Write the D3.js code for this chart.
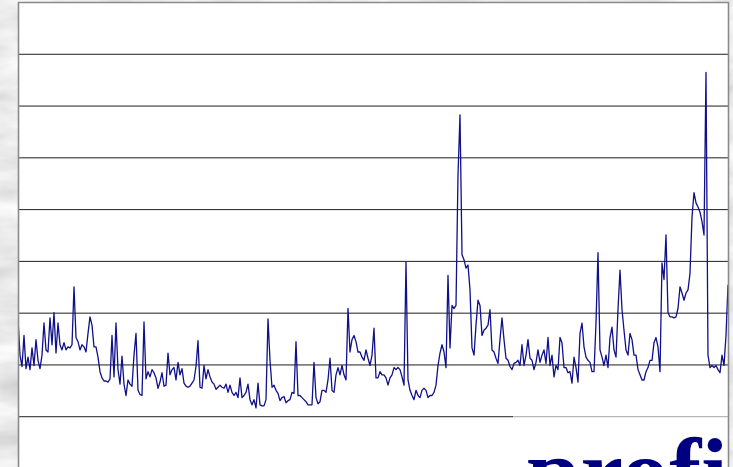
<!DOCTYPE html>
<html>
<head>
<meta charset="utf-8">
<script src="https://cdn.jsdelivr.net/npm/d3@7"></script>
<style>
  html, body { margin: 0; padding: 0; background: #d4d4d4; overflow: hidden; }
  svg { display: block; }
</style>
</head>
<body>
<svg width="733" height="467"></svg>
<script>
// series (gridline step = 50)
var seriesValues = [
  144,109,98,128,96,107,95,116,99,124,104,96,109,140,114,112,145,119,150,111,
  140,119,114,121,114,117,116,119,175,126,122,114,119,117,112,130,146,138,117,117,
  107,93,87,84,84,83,86,128,88,140,95,81,108,81,70,85,81,79,109,130,
  75,71,70,
  141,86,93,88,95,92,87,77,83,92,79,80,111,90,95,97,85,102,90,96,
  82,79,78,79,82,85,98,123,78,77,99,86,95,88,83,81,76,78,80,78,
  77,81,73,80,73,70,73,68,87,68,70,73,81,66,61,66,58,82,61,60,60,
  66,144,104,78,80,75,72,65,68,69,63,65,66,73,72,122,70,70,68,66,
  64,61,61,61,102,68,62,64,75,75,73,85,106,75,73,90,97,90,99,90,
  85,154,112,124,128,122,112,112,107,104,114,106,99,109,135,87,87,93,90,90,
  87,80,87,90,97,95,97,95,88,80,199,85,75,70,66,75,70,68,75,77,75,68,70,
  70,73,80,99,111,119,112,97,186,116,157,154,157,283,341,206,201,193,196,172,
  116,109,138,162,157,128,133,135,138,153,114,112,106,101,124,145,124,106,104,98,
  95,101,102,104,99,119,99,109,124,106,104,95,102,114,102,109,114,
  101,126,99,109,88,99,95,126,121,97,97,92,93,82,107,97,83,130,140,117,
  107,104,102,93,93,140,208,114,107,99,109,97,126,136,114,107,153,191,153,133,
  114,109,130,124,109,109,95,90,85,85,93,97,104,
  104,121,126,117,93,198,182,225,150,146,146,145,146,154,175,169,162,169,172,188,
  242,266,256,252,247,238,225,382,109,97,99,97,99,95,92,109,99,128,177
];
var gridValues = [50, 100, 150, 200, 250, 300, 350, 400];
var yMax = 450;
var bannerText = "profit";

var svg = d3.select("svg"),
  W = +svg.attr("width"),
  H = +svg.attr("height"),
  margin = {top: 2, right: 5, bottom: 0, left: 18},
  width = W - margin.left - margin.right,
  bottomY = 468;

var defs = svg.append("defs");

// marbled backdrop
var marble = defs.append("filter").attr("id", "marble")
  .attr("x", 0).attr("y", 0).attr("width", "100%").attr("height", "100%");
marble.append("feTurbulence")
  .attr("type", "fractalNoise")
  .attr("baseFrequency", "0.012 0.035")
  .attr("numOctaves", 4)
  .attr("seed", 7);
marble.append("feColorMatrix")
  .attr("type", "matrix")
  .attr("values", "0.55 0 0 0 0.55  0.55 0 0 0 0.55  0.55 0 0 0 0.55  0 0 0 0 1");

defs.append("clipPath").attr("id", "plotClip")
  .append("rect")
  .attr("x", margin.left).attr("y", margin.top)
  .attr("width", width).attr("height", bottomY - margin.top + 10);

svg.append("rect")
  .attr("width", W).attr("height", H)
  .attr("filter", "url(#marble)");

var x = d3.scaleLinear().domain([0, seriesValues.length - 1]).range([margin.left, margin.left + width]),
  y = d3.scaleLinear().domain([0, yMax]).range([bottomY, margin.top]);

// plot area
svg.append("rect")
  .attr("x", margin.left).attr("y", margin.top)
  .attr("width", width).attr("height", bottomY - margin.top + 10)
  .attr("fill", "#fff");

// gridlines
var grid = svg.append("g")
  .attr("class", "grid")
  .attr("transform", "translate(" + margin.left + ",0)")
  .call(d3.axisLeft(y).tickValues(gridValues).tickSize(-width).tickFormat(""));
grid.select(".domain").remove();
grid.selectAll("line").attr("stroke", "#1e1e1e").attr("stroke-width", 1);

// the series
var line = d3.line()
  .x(function(d, i) { return x(i); })
  .y(function(d) { return y(d); });

svg.append("path")
  .datum(seriesValues)
  .attr("clip-path", "url(#plotClip)")
  .attr("fill", "none")
  .attr("stroke", "#10108a")
  .attr("stroke-width", 1.3)
  .attr("stroke-linejoin", "round")
  .attr("d", line);

// washed-out panel behind the banner word
var banner = svg.append("g").attr("clip-path", "url(#plotClip)");
banner.append("rect")
  .attr("x", 513).attr("y", 415)
  .attr("width", W - 513).attr("height", H - 415)
  .attr("fill", "#fff").attr("fill-opacity", 0.6);
banner.append("text")
  .attr("x", 527).attr("y", 504)
  .attr("font-family", "'Liberation Serif', 'Times New Roman', serif")
  .attr("font-weight", "bold")
  .attr("font-size", 96)
  .attr("fill", "#000080")
  .text(bannerText);

// frame
svg.append("path")
  .attr("d", "M" + (margin.left + 0.5) + "," + (H + 5) + "V" + (margin.top + 0.5) +
    "H" + (margin.left + width + 0.5) + "V" + (H + 5))
  .attr("fill", "none")
  .attr("stroke", "#8a8a8a")
  .attr("stroke-width", 1.6);
</script>
</body>
</html>
